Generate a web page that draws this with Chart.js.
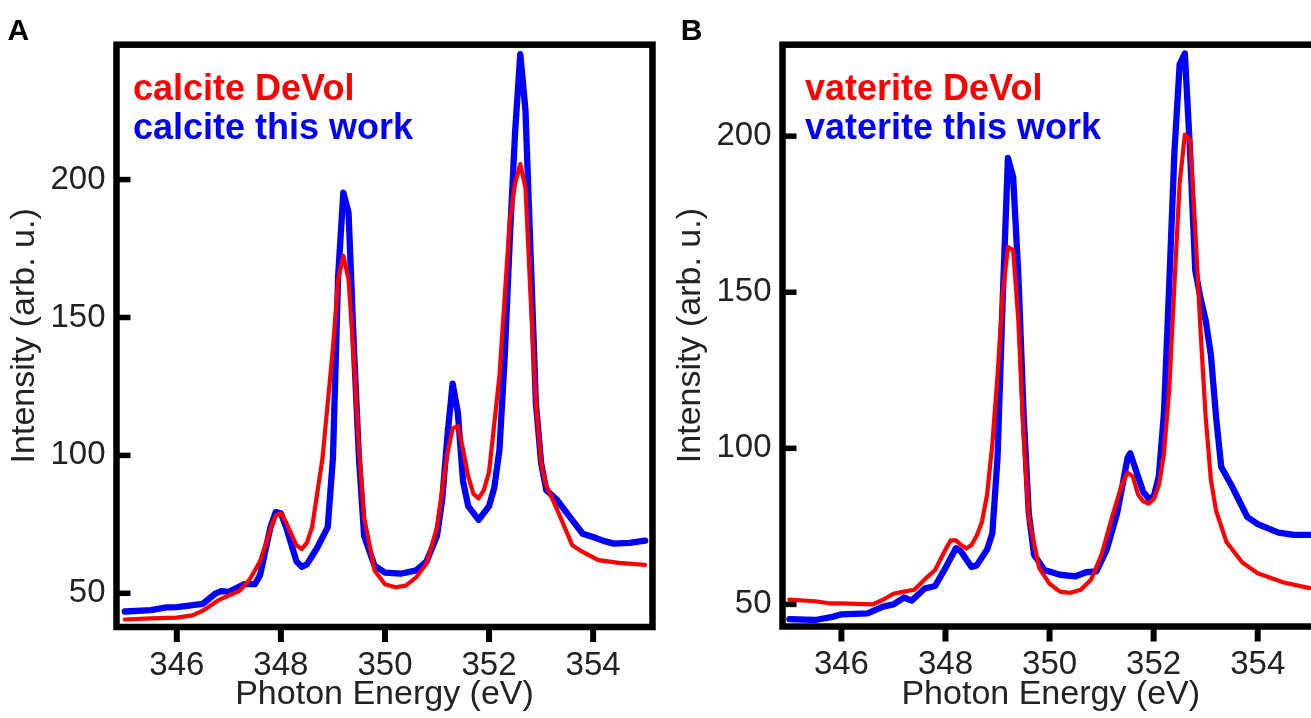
<!DOCTYPE html>
<html><head><meta charset="utf-8">
<script src="https://cdn.jsdelivr.net/npm/chart.js@4.4.1/dist/chart.umd.min.js"></script>
<style>
html,body{margin:0;padding:0;background:#fff;overflow:hidden;width:1311px;height:718px;}
#wrapA{position:absolute;left:0;top:0;width:660px;height:718px;}
#wrapB{position:absolute;left:660px;top:0;width:660px;height:718px;}
</style></head><body>
<div id="wrapA"><canvas id="chartA" width="660" height="718"></canvas></div>
<div id="wrapB"><canvas id="chartB" width="660" height="718"></canvas></div>
<script>
// ---- data ----
const xTicks = [346, 348, 350, 352, 354];
const yTicks = [50, 100, 150, 200];
const xTitle = 'Photon Energy (eV)';
const yTitle = 'Intensity (arb. u.)';

const seriesLabelsA = ['calcite DeVol', 'calcite this work'];
const seriesLabelsB = ['vaterite DeVol', 'vaterite this work'];

const energyA_devol = [345.0,345.5,346.0,346.3,346.5,346.8,347.0,347.2,347.4,347.6,347.8,347.9,348.0,348.1,348.3,348.4,348.5,348.6,348.8,349.0,349.1,349.2,349.3,349.4,349.5,349.6,349.8,350.0,350.2,350.4,350.6,350.8,351.0,351.2,351.3,351.4,351.5,351.6,351.7,351.8,351.9,352.0,352.2,352.4,352.5,352.6,352.7,352.8,352.9,353.0,353.1,353.3,353.6,353.8,354.1,354.5,355.0];
const intensityA_devol = [40.5,40.9,41.2,42.0,43.7,47.5,49.2,50.8,55.0,61.6,73.3,78.2,79.0,75.7,67.4,66.0,68.3,74.0,99.0,138.9,163.8,172.4,163.8,135.5,102.3,77.4,58.3,53.3,52.2,52.8,55.8,60.8,74.0,100.7,109.8,110.6,102.3,92.4,86.0,84.4,87.4,94.0,128.9,185.4,198.7,205.6,197.0,157.0,119.0,97.3,89.0,80.7,67.4,65.0,62.0,61.0,60.3];

const energyA_work = [345.0,345.5,345.8,346.0,346.5,346.75,346.85,347.0,347.3,347.5,347.6,347.8,347.9,348.0,348.1,348.3,348.4,348.5,348.7,348.9,349.0,349.1,349.2,349.3,349.4,349.5,349.6,349.8,350.0,350.3,350.6,350.8,351.0,351.1,351.2,351.3,351.4,351.5,351.6,351.8,352.0,352.1,352.2,352.3,352.4,352.5,352.6,352.7,352.8,352.9,353.0,353.1,353.3,353.5,353.8,354.0,354.2,354.4,354.7,355.0];
const intensityA_work = [43.4,43.9,44.9,45.0,46.2,50.0,50.8,50.5,53.3,53.3,56.6,74.0,79.4,79.0,74.0,61.6,59.6,60.5,66.6,74.0,99.0,165.0,195.3,188.0,140.5,99.0,70.8,60.0,57.5,57.1,58.3,61.6,70.8,84.0,107.0,126.0,115.6,90.7,81.6,76.6,81.6,88.2,102.0,135.5,178.7,217.0,245.5,225.0,172.0,119.0,97.3,87.4,84.0,79.0,71.6,70.4,69.0,68.0,68.3,69.1];

const energyB_devol = [345.0,345.5,345.8,346.0,346.6,346.8,347.0,347.2,347.4,347.6,347.8,348.0,348.1,348.2,348.3,348.4,348.5,348.6,348.7,348.8,348.9,349.0,349.1,349.2,349.3,349.4,349.5,349.6,349.8,350.0,350.2,350.4,350.6,350.8,351.0,351.2,351.4,351.5,351.6,351.7,351.8,351.9,352.0,352.1,352.2,352.3,352.4,352.5,352.6,352.7,352.8,352.9,353.0,353.1,353.2,353.4,353.7,354.0,354.5,355.0];
const intensityB_devol = [51.5,51.0,50.3,50.3,50.0,51.5,53.4,54.1,54.7,58.0,61.0,67.6,70.5,70.5,69.0,67.9,69.0,72.0,76.4,85.2,101.3,123.3,149.7,164.5,163.5,141.0,104.3,77.9,61.7,56.6,54.1,53.7,54.7,58.0,66.0,77.9,88.9,92.2,91.0,85.2,83.0,82.3,83.7,88.1,98.4,118.9,152.6,184.9,200.5,199.0,170.2,138.0,110.0,90.0,80.0,70.0,63.5,60.0,57.0,55.2];

const energyB_work = [345.0,345.5,345.8,346.0,346.5,346.8,347.0,347.2,347.35,347.6,347.8,348.0,348.2,348.3,348.5,348.6,348.8,348.9,349.0,349.1,349.2,349.3,349.4,349.5,349.6,349.7,349.9,350.2,350.5,350.7,350.9,351.1,351.3,351.4,351.5,351.55,351.7,351.8,351.9,352.0,352.1,352.2,352.3,352.4,352.5,352.6,352.7,352.8,352.9,353.0,353.1,353.2,353.3,353.5,353.8,354.0,354.4,354.7,355.0];
const intensityB_work = [45.3,45.0,45.9,46.8,47.1,49.3,50.0,52.2,51.2,55.1,55.9,61.7,68.0,66.9,62.0,62.5,67.6,72.7,96.9,148.0,193.0,187.0,155.6,111.6,79.3,66.0,61.0,59.5,59.0,60.3,60.6,67.6,79.3,88.0,97.0,98.4,91.0,86.0,84.0,84.5,91.0,111.6,152.6,195.0,223.0,226.5,195.0,157.0,148.2,141.0,130.0,110.0,94.0,88.0,78.0,75.7,73.0,72.3,72.3];

// ---- styling ----
const RED = '#ff0000';
const BLUE = '#0000ff';
const FONT = "'Liberation Sans', Arial, Helvetica, sans-serif";
const TEXT = '#222222';

function toPoints(xs, ys) { return xs.map((x, i) => ({x: x, y: ys[i]})); }

const framePlugin = {
  id: 'frame',
  afterDatasetsDraw(chart, args, o) {
    const ctx = chart.ctx, a = chart.chartArea;
    const xs = chart.scales.x, ys = chart.scales.y;
    ctx.save();
    ctx.strokeStyle = '#000';
    ctx.lineCap = 'butt';
    ctx.lineWidth = o.yTickWidth;
    ys.ticks.forEach(t => {
      const py = ys.getPixelForValue(t.value);
      ctx.beginPath(); ctx.moveTo(a.left, py); ctx.lineTo(a.left + o.yTickLen, py); ctx.stroke();
    });
    ctx.lineWidth = o.xTickWidth;
    xs.ticks.forEach(t => {
      const px = xs.getPixelForValue(t.value);
      ctx.beginPath(); ctx.moveTo(px, a.bottom); ctx.lineTo(px, a.bottom + o.xTickLen); ctx.stroke();
    });
    ctx.lineJoin = 'miter';
    ctx.lineWidth = o.frameWidth;
    ctx.strokeRect(a.left, a.top, a.right - a.left, a.bottom - a.top);
    // legend text
    ctx.font = 'bold ' + o.legendSize + 'px ' + FONT;
    ctx.textAlign = 'left';
    ctx.textBaseline = 'alphabetic';
    chart.data.datasets.forEach((ds, i) => {
      ctx.fillStyle = ds.borderColor;
      ctx.fillText(ds.label, a.left + o.legendDx, o.legendY + i * o.legendStep);
    });
    // panel letter
    ctx.fillStyle = '#000';
    ctx.font = 'bold ' + o.panelSize + 'px ' + FONT;
    ctx.fillText(o.panel, o.panelX, o.panelY);
    ctx.restore();
  }
};

function buildChart(id, c) {
  return new Chart(document.getElementById(id), {
    type: 'line',
    data: {
      datasets: [
        { label: c.labels[0], data: toPoints(c.e0, c.i0), borderColor: RED, borderWidth: 4.2 },
        { label: c.labels[1], data: toPoints(c.e1, c.i1), borderColor: BLUE, borderWidth: 6.3 }
      ]
    },
    options: {
      responsive: false, animation: false, devicePixelRatio: 1,
      layout: { padding: { top: c.padTop, right: c.padRight, left: 0, bottom: 0 } },
      elements: {
        point: { radius: 0, hoverRadius: 0 },
        line: { tension: 0, fill: false, borderJoinStyle: 'round', borderCapStyle: 'round' }
      },
      plugins: {
        legend: { display: false }, tooltip: { enabled: false },
        frame: {
          yTickLen: 14, yTickWidth: 5.5, xTickLen: 15, xTickWidth: 6, frameWidth: 6.5,
          legendSize: 36, legendDx: c.legendDx, legendY: 100, legendStep: 39,
          panel: c.panel, panelX: c.panelX, panelY: 39.5, panelSize: 30
        }
      },
      scales: {
        x: {
          type: 'linear', min: c.xMin, max: c.xMax,
          afterBuildTicks: s => { s.ticks = xTicks.map(v => ({value: v})); },
          afterFit: s => { s.height = c.xAxisH; },
          grid: { display: false, drawTicks: false },
          border: { display: false },
          ticks: { padding: 19, color: TEXT, font: { family: FONT, size: 33 }, callback: v => String(v) },
          title: { display: true, text: xTitle, color: TEXT, font: { family: FONT, size: 34 }, padding: { top: 0, bottom: 3 } }
        },
        y: {
          type: 'linear', min: c.yMin, max: c.yMax,
          afterBuildTicks: s => { s.ticks = yTicks.map(v => ({value: v})); },
          afterFit: s => { s.width = c.yAxisW; },
          grid: { display: false, drawTicks: false },
          border: { display: false },
          ticks: { padding: 11, color: TEXT, font: { family: FONT, size: 33 }, callback: v => String(v) },
          title: { display: true, text: yTitle, color: TEXT, font: { family: FONT, size: 34 }, padding: { top: c.yTitlePad, bottom: 0 } }
        }
      }
    },
    plugins: [framePlugin]
  });
}

buildChart('chartA', {
  labels: seriesLabelsA, e0: energyA_devol, i0: intensityA_devol, e1: energyA_work, i1: intensityA_work,
  xMin: 344.841, xMax: 355.141, yMin: 37.78, yMax: 248.9,
  padTop: 44.7, padRight: 7.5, xAxisH: 91, yAxisW: 116.5, yTitlePad: 4.5,
  legendDx: 16.5, panel: 'A', panelX: 7.6
});
buildChart('chartB', {
  labels: seriesLabelsB, e0: energyB_devol, i0: intensityB_devol, e1: energyB_work, i1: intensityB_work,
  xMin: 344.868, xMax: 355.178, yMin: 42.92, yMax: 229.3,
  padTop: 44.7, padRight: 1, xAxisH: 91.5, yAxisW: 122.5, yTitlePad: 10,
  legendDx: 22.5, panel: 'B', panelX: 20.8
});
</script></body></html>
